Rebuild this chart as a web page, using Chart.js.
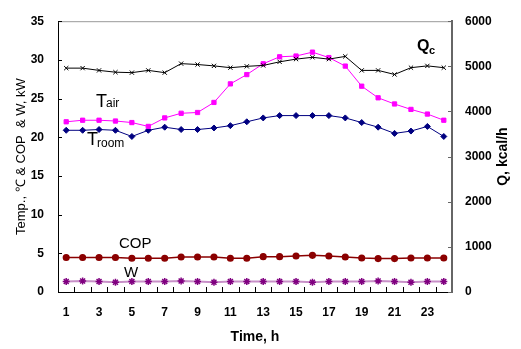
<!DOCTYPE html>
<html>
<head>
<meta charset="utf-8">
<script src="https://cdn.jsdelivr.net/npm/chart.js@4"></script>
<style>
  body { margin: 0; background: #fff; }
  canvas { display: block; }
</style>
</head>
<body>
<canvas id="chart" width="521" height="349"></canvas>
<script>
// hourly readings
const hours = ['1','2','3','4','5','6','7','8','9','10','11','12','13','14','15','16','17','18','19','20','21','22','23','24'];
const qc = [4960, 4960, 4910, 4870, 4860, 4910, 4860, 5060, 5040, 5010, 4970, 5000, 5020, 5100, 5160, 5200, 5160, 5220, 4910, 4910, 4820, 4970, 5010, 4970];
const tAir = [22.0, 22.2, 22.2, 22.1, 21.9, 21.4, 22.5, 23.1, 23.2, 24.5, 26.9, 28.1, 29.5, 30.4, 30.5, 31.0, 30.3, 29.2, 26.6, 25.1, 24.3, 23.6, 23.0, 22.2];
const tRoom = [20.9, 20.9, 21.0, 20.9, 20.1, 20.9, 21.3, 21.0, 21.0, 21.2, 21.5, 22.0, 22.5, 22.8, 22.8, 22.8, 22.8, 22.5, 21.9, 21.3, 20.5, 20.8, 21.4, 20.1];
const cop = [4.45, 4.45, 4.45, 4.45, 4.36, 4.36, 4.36, 4.53, 4.53, 4.53, 4.36, 4.36, 4.57, 4.57, 4.65, 4.74, 4.65, 4.53, 4.40, 4.32, 4.32, 4.40, 4.40, 4.40];
const w = [1.35, 1.43, 1.35, 1.26, 1.35, 1.35, 1.35, 1.43, 1.35, 1.26, 1.35, 1.35, 1.35, 1.35, 1.35, 1.26, 1.35, 1.35, 1.35, 1.43, 1.35, 1.26, 1.35, 1.35];

const FONT = "'Liberation Sans', Arial, sans-serif";

// frame, inward tick marks, right-hand title and series labels
const decorations = {
  id: 'decorations',
  beforeDatasetsDraw(chart) {
    const { ctx, chartArea: a, scales } = chart;
    ctx.save();
    ctx.strokeStyle = '#999';
    ctx.lineWidth = 1;
    ctx.beginPath();
    ctx.moveTo(a.left, a.top + 0.5);
    ctx.lineTo(a.right, a.top + 0.5);
    ctx.stroke();

    ctx.strokeStyle = '#000';
    ctx.beginPath();
    // x ticks between hours
    const x = scales.x;
    for (let i = 0; i < hours.length - 1; i++) {
      const px = Math.round((x.getPixelForValue(i) + x.getPixelForValue(i + 1)) / 2) + 0.5;
      ctx.moveTo(px, a.bottom);
      ctx.lineTo(px, a.bottom - 5);
    }
    scales.y.ticks.forEach(t => {
      const py = Math.round(scales.y.getPixelForValue(t.value)) + 0.5;
      ctx.moveTo(a.left, py);
      ctx.lineTo(a.left + 4, py);
    });
    ctx.stroke();
    ctx.strokeStyle = '#666';
    ctx.beginPath();
    scales.y2.ticks.forEach(t => {
      const py = Math.round(scales.y2.getPixelForValue(t.value)) + 0.5;
      ctx.moveTo(a.right, py);
      ctx.lineTo(a.right - 4, py);
    });
    ctx.stroke();

    // right axis title reads bottom to top
    ctx.fillStyle = '#000';
    ctx.font = `bold 14px ${FONT}`;
    ctx.textAlign = 'center';
    ctx.textBaseline = 'middle';
    ctx.translate(503, (a.top + a.bottom) / 2);
    ctx.rotate(-Math.PI / 2);
    ctx.fillText('Q, kcal/h', 0, 0);
    ctx.restore();
  },
  afterDatasetsDraw(chart) {
    const { ctx } = chart;
    ctx.save();
    ctx.fillStyle = '#000';
    ctx.textBaseline = 'alphabetic';
    const put = (txt, px, py, size, weight) => {
      ctx.font = `${weight || 'normal'} ${size}px ${FONT}`;
      ctx.fillText(txt, px, py);
    };
    put('T', 96, 107, 18);
    put('air', 106, 107, 12);
    put('T', 87, 145, 18);
    put('room', 97, 147, 12);
    put('COP', 119, 248, 15);
    put('W', 124, 277, 15);
    put('Q', 417, 51, 16, 'bold');
    put('c', 429, 54, 11, 'bold');
    ctx.restore();
  }
};

new Chart(document.getElementById('chart'), {
  type: 'line',
  data: {
    labels: hours,
    datasets: [
      {
        label: 'Qc',
        data: qc,
        yAxisID: 'y2',
        borderColor: '#000',
        borderWidth: 1,
        pointStyle: 'crossRot',
        pointRadius: 3,
        pointBorderColor: '#000',
        pointBorderWidth: 1
      },
      {
        label: 'Tair',
        data: tAir,
        yAxisID: 'y',
        borderColor: '#ff00ff',
        borderWidth: 1,
        pointStyle: 'rect',
        pointRadius: 3,
        pointBackgroundColor: '#ff00ff',
        pointBorderColor: '#ff00ff'
      },
      {
        label: 'Troom',
        data: tRoom,
        yAxisID: 'y',
        borderColor: '#000080',
        borderWidth: 1,
        pointStyle: 'rectRot',
        pointRadius: 3,
        pointBackgroundColor: '#000080',
        pointBorderColor: '#000080'
      },
      {
        label: 'COP',
        data: cop,
        yAxisID: 'y',
        borderColor: '#8b0000',
        borderWidth: 1.5,
        pointStyle: 'circle',
        pointRadius: 2.8,
        pointBackgroundColor: '#8b0000',
        pointBorderColor: '#8b0000'
      },
      {
        label: 'W',
        data: w,
        yAxisID: 'y',
        borderColor: '#c890c8',
        borderWidth: 2,
        pointStyle: 'star',
        pointRadius: 3.5,
        pointBackgroundColor: '#800080',
        pointBorderColor: '#800080',
        pointBorderWidth: 1.5
      }
    ]
  },
  options: {
    responsive: false,
    animation: false,
    layout: { padding: { top: 13, left: 0, right: 0, bottom: 0 } },
    plugins: {
      legend: { display: false },
      tooltip: { enabled: false }
    },
    scales: {
      x: {
        type: 'category',
        offset: true,
        afterFit(scale) { scale.height = 57; },
        grid: { display: true, offset: true, drawOnChartArea: false, drawTicks: false },
        border: { display: true, color: '#000', width: 1 },
        ticks: {
          autoSkip: false,
          maxRotation: 0,
          padding: 13,
          color: '#000',
          font: { family: FONT, size: 12, weight: 'bold' },
          callback: (v, i) => (i % 2 === 0 ? hours[i] : '')
        },
        title: {
          display: true,
          text: 'Time, h',
          color: '#000',
          padding: { top: 0, bottom: 3 },
          font: { family: FONT, size: 14, weight: 'bold' }
        }
      },
      y: {
        position: 'left',
        min: 0,
        max: 35,
        afterFit(scale) { scale.width = 58; },
        grid: { drawOnChartArea: false, drawTicks: false },
        border: { display: true, color: '#000', width: 1 },
        ticks: {
          stepSize: 5,
          padding: 14,
          color: '#000',
          font: { family: FONT, size: 12, weight: 'bold' }
        },
        title: {
          display: true,
          text: 'Temp., ℃ & COP  & W, kW',
          color: '#000',
          padding: { top: 14, bottom: 0 },
          font: { family: FONT, size: 13 }
        }
      },
      y2: {
        position: 'right',
        min: 0,
        max: 6000,
        afterFit(scale) { scale.width = 69; },
        grid: { drawOnChartArea: false, drawTicks: false },
        border: { display: true, color: '#666', width: 2 },
        ticks: {
          stepSize: 1000,
          padding: 13,
          color: '#000',
          font: { family: FONT, size: 12, weight: 'bold' },
          callback: v => String(v)
        }
      }
    }
  },
  plugins: [decorations]
});
</script>
</body>
</html>
